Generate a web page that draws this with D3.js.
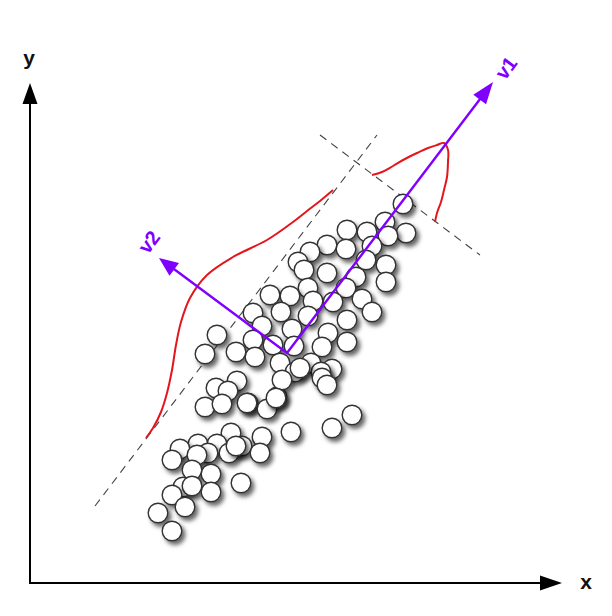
<!DOCTYPE html>
<html><head><meta charset="utf-8">
<script src="https://cdn.jsdelivr.net/npm/d3@7"></script>
<style>body{margin:0;background:#fff}</style></head>
<body><div id="chart"></div>
<script>
// ---- data (abstract units) ----
const pointX = [373,355,376,317,337,358,297,316,342,280,268,274,297,336,356,356,326,278,316,240,260,283,303,332,223,251,278,342,317,187,232,262,298,223,243,317,292,264,175,206,225,250,281,302,291,265,207,186,198,218,217,175,192,237,247,252,246,270,292,297,322,302,201,232,261,168,187,212,150,178,199,206,230,142,167,162,181,211,153,162,142,181,155,128,142];
const pointY = [379,361,350,353,351,347,338,334,337,331,321,313,310,323,318,301,306,295,295,288,287,282,281,284,270,271,267,271,263,248,257,254,250,243,238,241,236,237,229,231,226,220,220,214,211,211,202,195,192,180,180,176,179,174,186,203,185,215,205,198,168,155,150,146,151,139,139,137,134,130,130,137,130,123,128,113,109,100,96,97,88,91,76,70,52];
const axisLength = {x: 532, y: 500};
const axisLabels = ["x", "y"];
const vectorNames = ["v1", "v2"];
const vectorOrigin = [257, 230];
const vectorTipX = [463, 129];
const vectorTipY = [501, 325];
const dashX1 = [65, 290], dashY1 = [77, 448];
const dashX2 = [347, 450], dashY2 = [448, 328];
const densityV1X = [116,123,131,137,142,146,151,160,177,203,237,263,277,290,303];
const densityV1Y = [145,155,171,190,213,238,261,285,308,326,343,361,372,382,393];
const densityV2X = [342,352,363,375,387,398,407,414,418,418,417,414,411,407,405];
const densityV2Y = [408,411,417,424,430,435,438,440,433,421,406,393,381,370,361];

// ---- layout ----
const W = 612, H = 616;
const x = d3.scaleLinear().domain([0, 560]).range([30, 590]);
const y = d3.scaleLinear().domain([0, 510]).range([583, 73]);

const svg = d3.select("#chart").append("svg").attr("width", W).attr("height", H);
const defs = svg.append("defs");
const f = defs.append("filter").attr("id", "sh").attr("x", "-50%").attr("y", "-50%").attr("width", "200%").attr("height", "200%");
f.append("feDropShadow").attr("dx", 3).attr("dy", 3.5).attr("stdDeviation", 2.2)
  .attr("flood-color", "#000").attr("flood-opacity", 0.6);

function arrowHead(g, x0, y0, x1, y1, len, half, color) {
  const dx = x1 - x0, dy = y1 - y0, L = Math.hypot(dx, dy);
  const ux = dx / L, uy = dy / L, nx = -uy, ny = ux;
  const bx = x1 - ux * len, by = y1 - uy * len;
  g.append("path")
    .attr("d", `M${x1},${y1}L${bx + nx * half},${by + ny * half}L${bx - nx * half},${by - ny * half}Z`)
    .attr("fill", color);
  return [bx, by];
}

// axes
const ax = svg.append("g");
{
  const ox = x(0), oy = y(0);
  const xt = x(axisLength.x), yt = y(axisLength.y);
  const [bx] = arrowHead(ax, ox, oy, xt, oy, 22, 7.5, "#000");
  ax.append("line").attr("x1", ox - 1).attr("y1", oy).attr("x2", bx).attr("y2", oy).attr("stroke", "#000").attr("stroke-width", 2);
  const [, by] = arrowHead(ax, ox, oy, ox, yt, 21, 7.5, "#000");
  ax.append("line").attr("x1", ox).attr("y1", oy + 1).attr("x2", ox).attr("y2", by).attr("stroke", "#000").attr("stroke-width", 2);
  ax.append("text").attr("x", xt + 24).attr("y", oy + 6).attr("text-anchor", "middle")
    .attr("font-family", "Liberation Sans, Arial, sans-serif").attr("font-size", 21).attr("font-weight", "bold").attr("fill", "#111").text(axisLabels[0]);
  ax.append("text").attr("x", ox - 1).attr("y", yt - 18).attr("text-anchor", "middle")
    .attr("font-family", "Liberation Sans, Arial, sans-serif").attr("font-size", 21).attr("font-weight", "bold").attr("fill", "#111").text(axisLabels[1]);
}

// dashed guide lines
[0, 1].forEach(i => {
  svg.append("line")
    .attr("x1", x(dashX1[i])).attr("y1", y(dashY1[i]))
    .attr("x2", x(dashX2[i])).attr("y2", y(dashY2[i]))
    .attr("stroke", "#444").attr("stroke-width", 1.1).attr("stroke-dasharray", "8,6");
});

// density curves
const line = d3.line().x(d => x(d[0])).y(d => y(d[1])).curve(d3.curveCatmullRom.alpha(0.5));
[[densityV1X, densityV1Y], [densityV2X, densityV2Y]].forEach(([xs, ys]) => {
  svg.append("path").attr("d", line(xs.map((v, i) => [v, ys[i]])))
    .attr("fill", "none").attr("stroke", "#e3161d").attr("stroke-width", 2);
});

// points
svg.append("g").selectAll("circle").data(pointX.map((v, i) => [v, pointY[i]])).join("circle")
  .attr("cx", d => x(d[0])).attr("cy", d => y(d[1])).attr("r", 9.8)
  .attr("fill", "#fff").attr("stroke", "#333").attr("stroke-width", 1.4)
  .attr("filter", "url(#sh)");

// principal vectors
const purple = "#7f00ff";
const vg = svg.append("g");
vectorNames.forEach((name, i) => {
  const x0 = x(vectorOrigin[0]), y0 = y(vectorOrigin[1]);
  const x1 = x(vectorTipX[i]), y1 = y(vectorTipY[i]);
  const [bx, by] = arrowHead(vg, x0, y0, x1, y1, i === 0 ? 22 : 19, 8, purple);
  vg.append("line").attr("x1", x0).attr("y1", y0).attr("x2", bx).attr("y2", by)
    .attr("stroke", purple).attr("stroke-width", 2.4).attr("stroke-linecap", "round");
});
// labels
const lab = [[x(vectorTipX[0]) + 13, y(vectorTipY[0]) - 14], [x(vectorTipX[1]) - 10, y(vectorTipY[1]) - 16]];
vectorNames.forEach((name, i) => {
  svg.append("text").attr("transform", `translate(${lab[i][0]},${lab[i][1]}) rotate(-53)`)
    .attr("text-anchor", "middle").attr("dy", "0.35em")
    .attr("font-family", "Liberation Sans, Arial, sans-serif").attr("font-size", 20).attr("font-weight", "bold")
    .attr("fill", purple).text(name);
});
</script></body></html>
